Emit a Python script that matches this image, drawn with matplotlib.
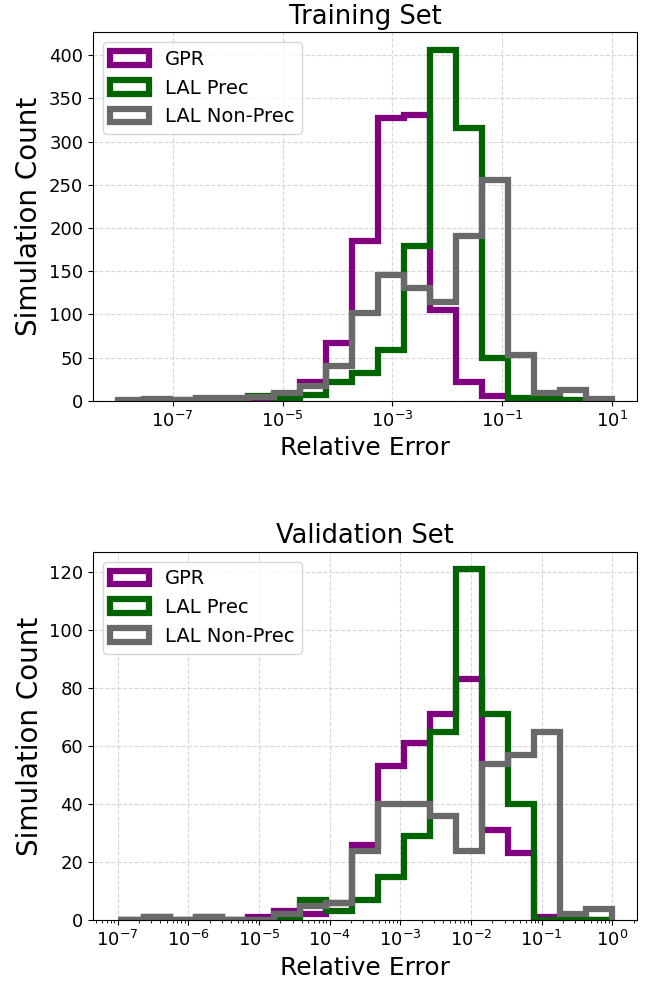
import matplotlib
matplotlib.use("Agg")
import matplotlib.pyplot as plt
import numpy as np
from matplotlib.ticker import NullLocator

# bin edges (log spaced, 19 bins each)
train_edges = np.logspace(-8, 1, 20)
val_edges = np.logspace(-7, 0, 20)

labels = ["GPR", "LAL Prec", "LAL Non-Prec"]
colors = ["purple", "darkgreen", "dimgray"]

# counts per bin
gpr_train = [0, 1, 1, 2, 2, 3, 8, 22, 67, 185, 327, 331, 105, 22, 6, 0, 0, 0, 0]
prec_train = [0, 0, 0, 0, 1, 5, 2, 7, 22, 32, 59, 179, 406, 316, 50, 3, 2, 1, 0]
nonprec_train = [1, 2, 1, 3, 3, 4, 9, 17, 40, 101, 146, 130, 114, 191, 255, 53, 9, 12, 2]

gpr_val = [0, 0, 0, 0, 0, 1, 3, 2, 6, 26, 53, 61, 71, 83, 31, 23, 1, 0, 0]
prec_val = [0, 1, 0, 1, 0, 0, 0, 7, 3, 7, 15, 29, 65, 121, 71, 40, 0, 0, 0]
nonprec_val = [0, 1, 0, 1, 0, 0, 2, 5, 6, 24, 40, 40, 36, 24, 54, 57, 65, 2, 4]


def draw(ax, edges, series, title):
    centers = np.sqrt(edges[:-1] * edges[1:])
    for counts, lab, col in zip(series, labels, colors):
        ax.hist(centers, bins=edges, weights=counts, histtype="step",
                color=col, lw=4.5, label=lab)
    ax.set_xscale("log")
    ax.set_title(title, fontsize=18.5)
    ax.set_xlabel("Relative Error", fontsize=18)
    ax.set_ylabel("Simulation Count", fontsize=20)
    ax.tick_params(labelsize=13)
    ax.grid(True, ls="--", color="lightgray", alpha=0.9)
    ax.set_axisbelow(True)
    ax.legend(loc="upper left", fontsize=14)


fig, (ax1, ax2) = plt.subplots(2, 1, figsize=(6.5, 9.82), dpi=100)
fig.subplots_adjust(left=0.143, right=0.98, top=0.967, bottom=0.063, hspace=0.41)

draw(ax1, train_edges, [gpr_train, prec_train, nonprec_train], "Training Set")
ax1.set_xticks([1e-7, 1e-5, 1e-3, 1e-1, 1e1])
ax1.xaxis.set_minor_locator(NullLocator())
ax1.set_yticks(np.arange(0, 401, 50))

draw(ax2, val_edges, [gpr_val, prec_val, nonprec_val], "Validation Set")
ax2.set_yticks(np.arange(0, 121, 20))

fig.savefig("out.png", dpi=100)
